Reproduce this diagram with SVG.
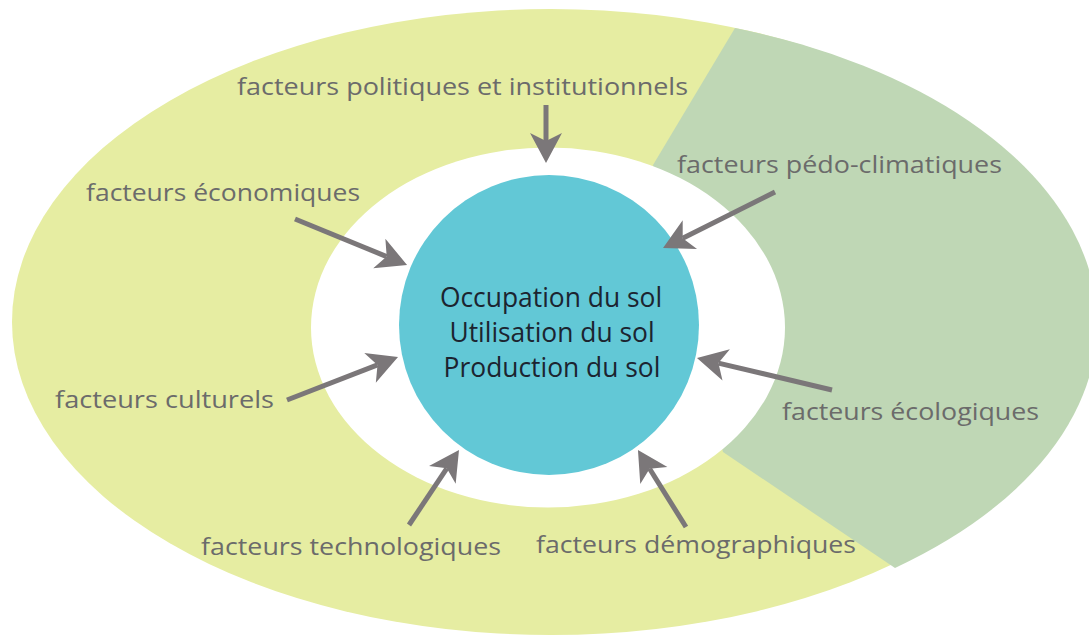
<svg xmlns="http://www.w3.org/2000/svg" width="1089" height="640" viewBox="0 0 1089 640">
  <style>
    .lbl { font-family: "Open Sans", "Noto Sans", "Liberation Sans", sans-serif; font-size: 24px; fill: #6b6b6b; }
    .core { font-family: "Open Sans", "Noto Sans", "Liberation Sans", sans-serif; font-size: 26.4px; fill: #1c2430; text-anchor: middle; }
    .arr { stroke: #7b7779; stroke-width: 5; fill: none; marker-end: url(#head); }
  </style>
  <defs>
    <marker id="head" viewBox="-10 -18 34 36" markerWidth="34" markerHeight="36" refX="0" refY="0" orient="auto" markerUnits="userSpaceOnUse">
      <path d="M -8,-16 L 22,0 L -8,16 L 0,0 Z" fill="#7b7779"/>
    </marker>
  </defs>
  <rect width="1089" height="640" fill="#ffffff"/>
  <g id="background">
    <ellipse cx="551" cy="322" rx="539" ry="313" fill="#e6eda2"/>
    <path d="M 735,28 A 539 313 0 0 1 895,568 L 723,452 L 653,165 Z" fill="#bfd7b5"/>
    <ellipse cx="548" cy="327.5" rx="237" ry="180" fill="#ffffff"/>
  </g>
  <g id="center">
    <circle cx="549" cy="325" r="150" fill="#62c8d6"/>
    <text class="core" x="551" y="307">Occupation du sol</text>
    <text class="core" x="552" y="342">Utilisation du sol</text>
    <text class="core" x="552" y="377">Production du sol</text>
  </g>
  <g id="labels">
    <text id="politiques" class="lbl" x="237" y="95" textLength="451" lengthAdjust="spacingAndGlyphs">facteurs politiques et institutionnels</text>
    <text id="economiques" class="lbl" x="86" y="201" textLength="274" lengthAdjust="spacingAndGlyphs">facteurs économiques</text>
    <text id="pedo" class="lbl" x="677" y="173" textLength="325" lengthAdjust="spacingAndGlyphs">facteurs pédo-climatiques</text>
    <text id="culturels" class="lbl" x="55" y="408" textLength="219" lengthAdjust="spacingAndGlyphs">facteurs culturels</text>
    <text id="ecologiques" class="lbl" x="782" y="420" textLength="257" lengthAdjust="spacingAndGlyphs">facteurs écologiques</text>
    <text id="technologiques" class="lbl" x="201" y="555" textLength="300" lengthAdjust="spacingAndGlyphs">facteurs technologiques</text>
    <text id="demographiques" class="lbl" x="536" y="553" textLength="320" lengthAdjust="spacingAndGlyphs">facteurs démographiques</text>
  </g>
  <g id="connectors">
    <line class="arr" x1="546" y1="105" x2="546" y2="141"/>
    <line class="arr" x1="295" y1="219" x2="386.7" y2="256.6"/>
    <line class="arr" x1="775" y1="192" x2="682.7" y2="238.2"/>
    <line class="arr" x1="287" y1="400" x2="377.5" y2="364.9"/>
    <line class="arr" x1="409" y1="525" x2="446.8" y2="468.3"/>
    <line class="arr" x1="832" y1="390" x2="718.4" y2="363.1"/>
    <line class="arr" x1="686" y1="527" x2="649.6" y2="468.7"/>
  </g>
</svg>
